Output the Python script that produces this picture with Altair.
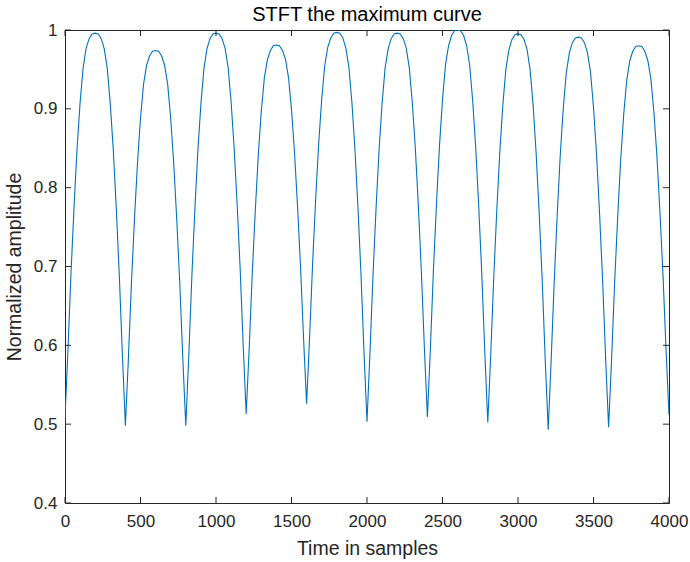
import altair as alt
import pandas as pd

# Sample spacing of the STFT maximum curve (samples between points)
SAMPLE_STEP = 20

# Amplitude values, one list per 400-sample arch
ARCH_01 = [0.508, 0.596, 0.693, 0.776, 0.850, 0.908, 0.952, 0.977, 0.989, 0.995,
           0.996, 0.995, 0.989, 0.976, 0.951, 0.906, 0.847, 0.772, 0.687, 0.588]
ARCH_02 = [0.498, 0.584, 0.679, 0.760, 0.831, 0.888, 0.931, 0.955, 0.967, 0.973,
           0.974, 0.973, 0.967, 0.955, 0.931, 0.888, 0.831, 0.760, 0.679, 0.584]
ARCH_03 = [0.498, 0.588, 0.687, 0.772, 0.847, 0.906, 0.951, 0.976, 0.989, 0.995,
           0.996, 0.995, 0.989, 0.977, 0.953, 0.909, 0.851, 0.779, 0.697, 0.600]
ARCH_04 = [0.513, 0.597, 0.691, 0.770, 0.841, 0.897, 0.939, 0.962, 0.974, 0.980,
           0.981, 0.980, 0.974, 0.963, 0.940, 0.899, 0.845, 0.776, 0.699, 0.608]
ARCH_05 = [0.526, 0.611, 0.705, 0.785, 0.856, 0.912, 0.955, 0.978, 0.990, 0.996,
           0.997, 0.996, 0.990, 0.977, 0.953, 0.908, 0.849, 0.775, 0.691, 0.592]
ARCH_06 = [0.503, 0.592, 0.690, 0.774, 0.848, 0.907, 0.952, 0.976, 0.989, 0.995,
           0.996, 0.995, 0.989, 0.977, 0.952, 0.908, 0.850, 0.777, 0.694, 0.597]
ARCH_07 = [0.509, 0.597, 0.696, 0.779, 0.853, 0.912, 0.956, 0.980, 0.993, 0.999,
           1.000, 0.999, 0.993, 0.980, 0.955, 0.910, 0.851, 0.776, 0.691, 0.592]
ARCH_08 = [0.502, 0.591, 0.689, 0.773, 0.847, 0.906, 0.951, 0.975, 0.988, 0.994,
           0.995, 0.994, 0.988, 0.975, 0.950, 0.905, 0.844, 0.769, 0.684, 0.583]
ARCH_09 = [0.493, 0.583, 0.682, 0.767, 0.842, 0.901, 0.946, 0.971, 0.984, 0.990,
           0.991, 0.990, 0.984, 0.971, 0.947, 0.902, 0.843, 0.768, 0.684, 0.585]
ARCH_10 = [0.496, 0.583, 0.680, 0.762, 0.835, 0.893, 0.936, 0.961, 0.973, 0.979,
           0.980, 0.979, 0.973, 0.961, 0.938, 0.896, 0.840, 0.769, 0.690, 0.596]
LAST_VALUE = [0.512]

X_TICKS = [0, 500, 1000, 1500, 2000, 2500, 3000, 3500, 4000]
Y_TICKS = [0.4, 0.5, 0.6, 0.7, 0.8, 0.9, 1.0]

amplitude = (ARCH_01 + ARCH_02 + ARCH_03 + ARCH_04 + ARCH_05 + ARCH_06 +
             ARCH_07 + ARCH_08 + ARCH_09 + ARCH_10 + LAST_VALUE)
samples = [i * SAMPLE_STEP for i in range(len(amplitude))]
df = pd.DataFrame({"t": samples, "a": amplitude})
xt = pd.DataFrame({"t": X_TICKS})
yt = pd.DataFrame({"a": Y_TICKS})

W, H = 604, 473
TICK = 6
AXC = "#262626"
FONT = "Liberation Sans"

xs = alt.Scale(domain=[0, 4000], nice=False, zero=False)
ys = alt.Scale(domain=[0.4, 1.0], nice=False, zero=False)

x_axis = alt.Axis(
    values=X_TICKS, title="Time in samples", ticks=False, tickSize=0,
    domain=False, grid=False, labelPadding=10, titlePadding=10, format="d",
    labelFlush=False, labelOverlap=False,
    labelFontSize=17, titleFontSize=19.5, labelFont=FONT, titleFont=FONT,
    labelColor=AXC, titleColor=AXC, titleFontWeight="normal")
y_axis = alt.Axis(
    values=Y_TICKS, title="Normalized amplitude", ticks=False, tickSize=0,
    domain=False, grid=False, labelPadding=8, titlePadding=9, format="~g",
    labelFlush=False, labelOverlap=False,
    labelFontSize=17, titleFontSize=19.5, labelFont=FONT, titleFont=FONT,
    labelColor=AXC, titleColor=AXC, titleFontWeight="normal")

X = alt.X("t:Q", scale=xs, axis=x_axis, title="Time in samples")
Y = alt.Y("a:Q", scale=ys, axis=y_axis, title="Normalized amplitude")

line = alt.Chart(df).mark_line(color="#0072BD", strokeWidth=1.1, clip=True).encode(
    x=X, y=Y)

bottom_ticks = alt.Chart(xt).mark_rule(color=AXC, strokeWidth=1).encode(
    x=X, y=alt.value(H), y2=alt.value(H - TICK))
top_ticks = alt.Chart(xt).mark_rule(color=AXC, strokeWidth=1).encode(
    x=X, y=alt.value(0), y2=alt.value(TICK))
left_ticks = alt.Chart(yt).mark_rule(color=AXC, strokeWidth=1).encode(
    y=Y, x=alt.value(0), x2=alt.value(TICK))
right_ticks = alt.Chart(yt).mark_rule(color=AXC, strokeWidth=1).encode(
    y=Y, x=alt.value(W), x2=alt.value(W - TICK))

chart = alt.layer(line, bottom_ticks, top_ticks, left_ticks, right_ticks).properties(
    width=W, height=H,
    title=alt.TitleParams("STFT the maximum curve", fontSize=20, font=FONT,
                          fontWeight="normal", color="#000000", offset=-4,
                          anchor="middle"),
    autosize=alt.AutoSizeParams(type="none"),
    padding={"left": 65, "top": 30, "right": 21, "bottom": 59},
    background="white",
).configure_view(stroke=AXC, strokeWidth=1)

chart.save("out.html", embed_options={"renderer": "svg", "actions": False})
